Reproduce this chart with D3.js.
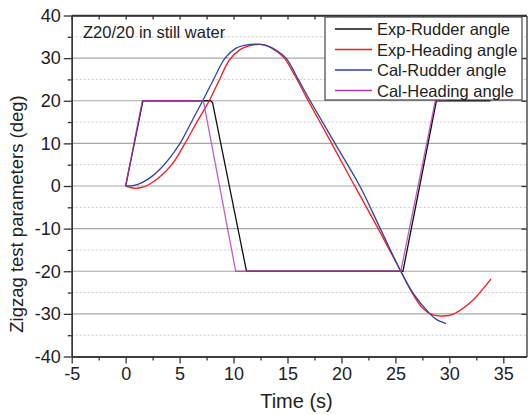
<!DOCTYPE html>
<html>
<head>
<meta charset="utf-8">
<script src="https://cdn.jsdelivr.net/npm/d3@7"></script>
<style>
  html, body { margin: 0; padding: 0; background: #fff; }
  svg { display: block; font-family: "Liberation Sans", Arial, sans-serif; }
</style>
</head>
<body>
<svg id="chart" width="531" height="415"></svg>
<script>
// ---------------- data ----------------
const xTicks = [-5, 0, 5, 10, 15, 20, 25, 30, 35];
const yTicks = [-40, -30, -20, -10, 0, 10, 20, 30, 40];
const seriesNames = ["Exp-Rudder angle", "Exp-Heading angle", "Cal-Rudder angle", "Cal-Heading angle"];
const seriesColors = ["#111111", "#ee1c24", "#2b45a0", "#b533b5"];

const expRudderT = [0, 1.6, 7.85, 8.05, 11.2, 25.7, 28.8, 33.8];
const expRudderV = [0, 20, 20, 19.6, -20, -20, 20, 20];

const expHeadingT = [0, 0.4, 0.9, 1.5, 2.2, 3.0, 3.7, 4.4, 5.5, 6.6, 7.75, 8.7, 9.6, 10.6, 11.4, 12.2, 13.0, 13.8, 14.7, 15.7, 16.75, 18.85, 20.95, 23.1, 25.5, 26.45, 27.5, 28.4, 29.45, 30.3, 31.3, 32.3, 33.86];
const expHeadingV = [0, -0.35, -0.55, -0.35, 0.4, 1.8, 3.4, 5.4, 10, 15, 20, 25, 29.5, 32.0, 32.9, 33.2, 33.0, 31.9, 30, 25.8, 20.8, 11.1, 1.3, -8.6, -20, -24.6, -28.6, -30.2, -30.5, -30.1, -28.6, -26.5, -21.8];

const calRudderT = [0, 0.8, 1.6, 2.4, 3.2, 4.0, 5.04, 6.1, 7.14, 8.15, 9.21, 10.2, 11.0, 12.05, 13.0, 14.0, 14.87, 16.0, 17.1, 19.4, 21.7, 23.6, 25.5, 26.6, 28.2, 28.8, 29.7];
const calRudderV = [0, 0.15, 0.9, 2.2, 4.0, 6.3, 10, 15, 20, 25, 30, 32.3, 33.0, 33.3, 33.0, 31.8, 30, 25, 20, 10, 0, -10, -20, -25, -30, -31.3, -32.3];

const calHeadingT = [0, 1.55, 7.2, 10.2, 25.5, 28.7, 29.75];
const calHeadingV = [0, 20, 20, -20, -20, 20, 20];

const annotation = "Z20/20 in still water";
const xTitle = "Time (s)";
const yTitle = "Zigzag test parameters (deg)";

// ---------------- layout ----------------
const svg = d3.select("#chart");
const L = 71.7, R = 526.5, T = 15.5, B = 356.5;
const x = d3.scaleLinear().domain([-5, 37.15]).range([L, R]);
const y = d3.scaleLinear().domain([-40, 40]).range([B, T]);

// grid
const majorGrid = [-30, -20, -10, 0, 10, 20, 30];
const minorGrid = [-35, -25, -15, -5, 5, 15, 25, 35];
svg.append("g").selectAll("line").data(minorGrid).join("line")
  .attr("x1", L).attr("x2", R).attr("y1", d => y(d)).attr("y2", d => y(d))
  .attr("stroke", "#c8c8c8").attr("stroke-width", 1).attr("stroke-dasharray", "2,2");
svg.append("g").selectAll("line").data(majorGrid).join("line")
  .attr("x1", L).attr("x2", R).attr("y1", d => y(d)).attr("y2", d => y(d))
  .attr("stroke", "#a8a8a8").attr("stroke-width", 1.2);

// series
const line = d3.line().x(d => x(d[0])).y(d => y(d[1]));
const smooth = d3.line().x(d => x(d[0])).y(d => y(d[1])).curve(d3.curveCatmullRom.alpha(0.5));
const zip = (a, b) => a.map((t, i) => [t, b[i]]);

svg.append("path").attr("d", line(zip(expRudderT, expRudderV)))
  .attr("fill", "none").attr("stroke", seriesColors[0]).attr("stroke-width", 1.3);
svg.append("path").attr("d", smooth(zip(expHeadingT, expHeadingV)))
  .attr("fill", "none").attr("stroke", seriesColors[1]).attr("stroke-width", 1.3);
svg.append("path").attr("d", smooth(zip(calRudderT, calRudderV)))
  .attr("fill", "none").attr("stroke", seriesColors[2]).attr("stroke-width", 1.3);
svg.append("path").attr("d", line(zip(calHeadingT, calHeadingV)))
  .attr("fill", "none").attr("stroke", seriesColors[3]).attr("stroke-opacity", 0.8).attr("stroke-width", 1.3);

// axes
const axisColor = "#333";
const fmt = d => String(d);
function styleAxis(g) {
  g.select(".domain").attr("stroke", axisColor).attr("stroke-width", 1.3);
  g.selectAll(".tick line").attr("stroke", axisColor).attr("stroke-width", 1.3);
  g.selectAll(".tick text").attr("fill", "#222").style("font-size", "18px")
   .style("font-family", "'Liberation Sans', Arial, sans-serif");
}
const xMinor = d3.range(-2.5, 37, 5);
const yMinor = minorGrid;

// bottom
svg.append("g").attr("transform", `translate(0,${B})`)
  .call(d3.axisBottom(x).tickValues(xMinor).tickSize(4).tickFormat("").tickSizeOuter(0))
  .call(styleAxis);
svg.append("g").attr("transform", `translate(0,${B})`)
  .call(d3.axisBottom(x).tickValues(xTicks).tickSize(7).tickPadding(4).tickFormat(fmt).tickSizeOuter(0))
  .call(styleAxis);
// top
svg.append("g").attr("transform", `translate(0,${T})`)
  .call(d3.axisBottom(x).tickValues(xMinor.concat(xTicks)).tickSize(4).tickFormat("").tickSizeOuter(0))
  .call(styleAxis);
svg.append("line").attr("x1", L).attr("x2", R).attr("y1", T).attr("y2", T).attr("stroke", axisColor).attr("stroke-width", 1.3);
// left
svg.append("g").attr("transform", `translate(${L},0)`)
  .call(d3.axisLeft(y).tickValues(yMinor).tickSize(4).tickFormat("").tickSizeOuter(0))
  .call(styleAxis);
svg.append("g").attr("transform", `translate(${L},0)`)
  .call(d3.axisLeft(y).tickValues(yTicks).tickSize(8).tickPadding(3).tickFormat(fmt).tickSizeOuter(0))
  .call(styleAxis);
// right
svg.append("g").attr("transform", `translate(${R},0)`)
  .call(d3.axisLeft(y).tickValues(yTicks).tickSize(5).tickFormat("").tickSizeOuter(0))
  .call(styleAxis);

// axis titles
svg.append("text").attr("x", 296.5).attr("y", 408)
  .attr("text-anchor", "middle").attr("fill", "#222").style("font-size", "20px").text(xTitle);
svg.append("text").attr("transform", `translate(23,214) rotate(-90)`)
  .attr("text-anchor", "middle").attr("fill", "#222").style("font-size", "18.5px").text(yTitle);

// annotation
svg.append("text").attr("x", 83).attr("y", 38).attr("fill", "#222")
  .style("font-size", "16.5px").text(annotation);

// legend
const lg = svg.append("g");
lg.append("rect").attr("x", 325).attr("y", 17).attr("width", 197).attr("height", 83)
  .attr("fill", "#fff").attr("stroke", "#444").attr("stroke-width", 1.2);
const rowY = [29, 49.5, 70, 90.5];
seriesNames.forEach((name, i) => {
  lg.append("line").attr("x1", 335).attr("x2", 372).attr("y1", rowY[i]).attr("y2", rowY[i])
    .attr("stroke", seriesColors[i]).attr("stroke-width", 1.3);
  lg.append("text").attr("x", 377).attr("y", rowY[i] + 6).attr("fill", "#222")
    .style("font-size", "16.5px").text(name);
});
</script>
</body>
</html>
